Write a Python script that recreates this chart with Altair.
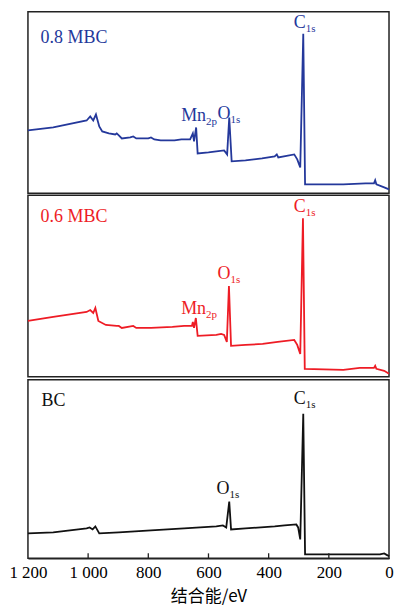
import altair as alt
import pandas as pd

# ---- 0.8 MBC (blue) ----
e_08 = [1200, 1116, 1005, 993, 983, 974, 963, 953, 931, 910, 905, 898, 888, 860, 850, 840, 800, 791, 780,
        759, 713, 690, 661, 652, 648, 641, 636, 600, 574, 548, 538, 531, 523, 477, 422, 380, 373, 368,
        315, 305, 295, 285, 279, 152, 78, 50, 46, 42, 16, 0]
i_08 = [63, 66, 73, 77, 73, 79, 67, 62, 60, 59, 60, 58, 55, 56, 57, 55, 55, 56, 54,
        53, 53, 54, 54, 60, 52, 66, 40, 41, 42, 43, 39, 76, 32, 33, 35, 37, 39, 36,
        39, 34, 26, 160, 9, 9, 10, 10, 13, 9, 6, 4]

# ---- 0.6 MBC (red) ----
e_06 = [1200, 1116, 1005, 993, 983, 976, 966, 941, 905, 898, 888, 850, 840, 791, 720, 681, 655, 652, 648,
        642, 636, 574, 558, 548, 539, 532, 525, 477, 420, 370, 315, 305, 295, 286, 280, 152, 97, 50, 46,
        42, 16, 0]
i_06 = [56, 60, 65, 67, 64, 69, 56, 52, 51, 51, 49, 51, 49, 49, 50, 51, 51, 55, 49,
        59, 41, 42, 43, 42, 35, 91, 31, 32, 33, 35, 37, 32, 23, 159, 8, 7, 9, 9, 11,
        8, 6, 3]

# ---- BC (black) ----
e_bc = [1200, 1116, 1005, 995, 985, 976, 963, 898, 791, 681, 574, 552, 541, 531, 525, 477, 380, 347,
        308, 302, 295, 285, 279, 97, 30, 16, 5, 0]
i_bc = [25, 26, 30, 31, 29, 32, 25, 26, 28, 30, 32, 33, 31, 57, 29, 30, 32, 33,
        34, 31, 19, 145, 4, 4, 4, 5, 3, 2]

# ---- annotations ----
names = ["0.8 MBC", "0.6 MBC", "BC"]
name_pos = [(1158, 151), (1158, 155), (1155, 153)]
peaks_08 = {"main": ["C", "O", "Mn"], "sub": ["1s", "1s", "2p"], "x": [277, 527, 608], "y": [166, 74, 72]}
peaks_06 = {"main": ["C", "O", "Mn"], "sub": ["1s", "1s", "2p"], "x": [277, 527, 608], "y": [165, 98, 63]}
peaks_bc = {"main": ["C", "O"], "sub": ["1s", "1s"], "x": [277, 530], "y": [155, 65]}

tick_values = [1200, 1000, 800, 600, 400, 200, 0]
inner_ticks = [1000, 800, 600, 400, 200]

W = 362
SERIF = "Liberation Serif"


def panel(energy, inten, color, h, ymax, name, npos, peaks, axis):
    xs = alt.Scale(domain=[0, 1200], reverse=True)
    ys = alt.Scale(domain=[0, ymax])
    xenc = alt.X("energy:Q", scale=xs, axis=axis, title="结合能/eV")
    yenc = alt.Y("intensity:Q", scale=ys, axis=None)
    df = pd.DataFrame({"energy": energy, "intensity": inten})
    line = alt.Chart(df).mark_line(color=color, strokeWidth=1.8, interpolate="linear").encode(
        x=xenc, y=yenc)
    ndf = pd.DataFrame({"energy": [npos[0]], "intensity": [npos[1]], "t": [name]})
    ntext = alt.Chart(ndf).mark_text(font=SERIF, fontSize=18, color=color, align="left",
                                     baseline="alphabetic").encode(x=xenc, y=yenc, text="t:N")
    pdf = pd.DataFrame({"energy": peaks["x"], "intensity": peaks["y"], "m": peaks["main"], "s": peaks["sub"]})
    mtext = alt.Chart(pdf).mark_text(font=SERIF, fontSize=18, color=color, align="right",
                                     baseline="alphabetic", dx=0).encode(x=xenc, y=yenc, text="m:N")
    stext = alt.Chart(pdf).mark_text(font=SERIF, fontSize=11, color=color, align="left",
                                     baseline="alphabetic", dx=0, dy=4).encode(x=xenc, y=yenc, text="s:N")
    layers = [line, ntext, mtext, stext]
    if axis is not None:
        tdf = pd.DataFrame({"energy": inner_ticks})
        ticks = alt.Chart(tdf).mark_rule(color="#222", strokeWidth=1.3).encode(
            x=xenc, y=alt.value(h), y2=alt.value(h - 5))
        layers.append(ticks)
    return alt.layer(*layers).properties(width=W, height=h)


bottom_axis = alt.Axis(
    values=tick_values,
    labelExpr="replace(format(datum.value, ','), ',', ' ')",
    tickSize=0, labelFont=SERIF, labelFontSize=17, labelColor="black", labelPadding=6,
    labelFlush=False, labelOverlap=False, domainColor="#222", domainWidth=1.5, grid=False,
    titleFont="Noto Sans CJK SC", titleFontSize=17, titleFontWeight="normal",
    titleColor="black", titlePadding=8,
)

top = panel(e_08, i_08, "#24389b", 182, 182, names[0], name_pos[0], peaks_08, None)
mid = panel(e_06, i_06, "#ee1c25", 182, 182, names[1], name_pos[1], peaks_06, None)
bot = panel(e_bc, i_bc, "#111111", 179, 179, names[2], name_pos[2], peaks_bc, bottom_axis)

chart = alt.vconcat(top, mid, bot, spacing=0).properties(
    padding={"left": 0, "top": 2, "right": 0, "bottom": 0}
).configure_view(stroke="#222", strokeWidth=1.5).configure_concat(spacing=0)

chart.save("out.html", embed_options={"renderer": "svg", "actions": False})
